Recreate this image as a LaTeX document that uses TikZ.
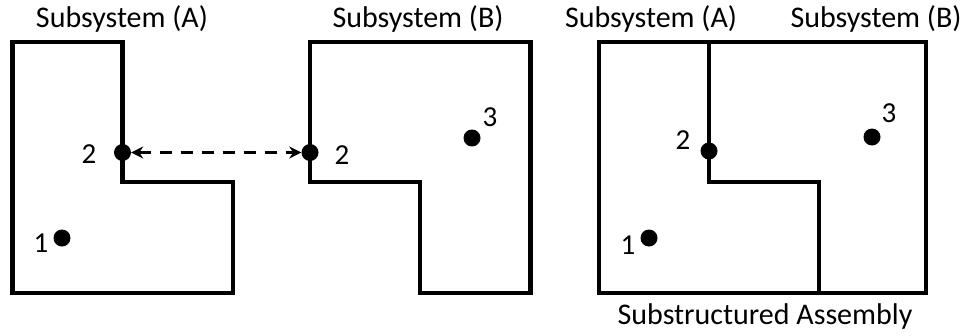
\documentclass[tikz,border=0pt]{standalone}
\usepackage{fontspec}
\setmainfont{Carlito}
\usetikzlibrary{arrows.meta}
\begin{document}
\begin{tikzpicture}[x=1pt,y=-1pt,
  outline/.style={draw=black,line width=4.5pt,line join=miter},
  dof/.style={circle,fill=black,inner sep=0pt,minimum size=17pt},
  lbl/.style={font=\fontsize{29}{31}\selectfont,inner sep=0pt},
  ttl/.style={font=\fontsize{30}{33}\selectfont,inner sep=0pt}]
\useasboundingbox (0,0) rectangle (966,335);

% Subsystem A
\draw[outline] (12.5,42) -- (122.5,42) -- (122.5,182) -- (233,182) -- (233,293) -- (12.5,293) -- cycle;
\node[ttl] (tA) at (122,19) {Subsystem (A)};
\node[dof] (a2) at (122.5,152.5) {};
\node[dof] (a1) at (62,238) {};
\node[lbl] (la2) at (89,154) {2};
\node[lbl] (la1) at (41,243) {1};

% Subsystem B
\draw[outline] (310,42) -- (530.5,42) -- (530.5,293) -- (420,293) -- (420,182) -- (310,182) -- cycle;
\node[ttl] (tB) at (418,19) {Subsystem (B)};
\node[dof] (b2) at (310,152.5) {};
\node[dof] (b3) at (472,138) {};
\node[lbl] (lb2) at (342,155) {2};
\node[lbl] (lb3) at (490,117) {3};

% coupling of the shared interface node
\draw[line width=3.5pt,dash pattern=on 12pt off 9pt,{Stealth[length=12pt,width=12pt]}-{Stealth[length=12pt,width=12pt]}] (a2) -- (b2);

% Assembled structure
\draw[outline] (599,42) rectangle (926,293);
\draw[outline] (709,42) -- (709,182) -- (819,182) -- (819,293);
\node[ttl] (tAA) at (651,19) {Subsystem (A)};
\node[ttl] (tAB) at (876,19) {Subsystem (B)};
\node[dof] (c2) at (709,151) {};
\node[dof] (c1) at (649,238) {};
\node[dof] (c3) at (872,137) {};
\node[lbl] (lc2) at (683,140) {2};
\node[lbl] (lc1) at (628,245) {1};
\node[lbl] (lc3) at (889,113) {3};
\node[ttl] (tS) at (765,316) {Substructured Assembly};
\end{tikzpicture}
\end{document}
